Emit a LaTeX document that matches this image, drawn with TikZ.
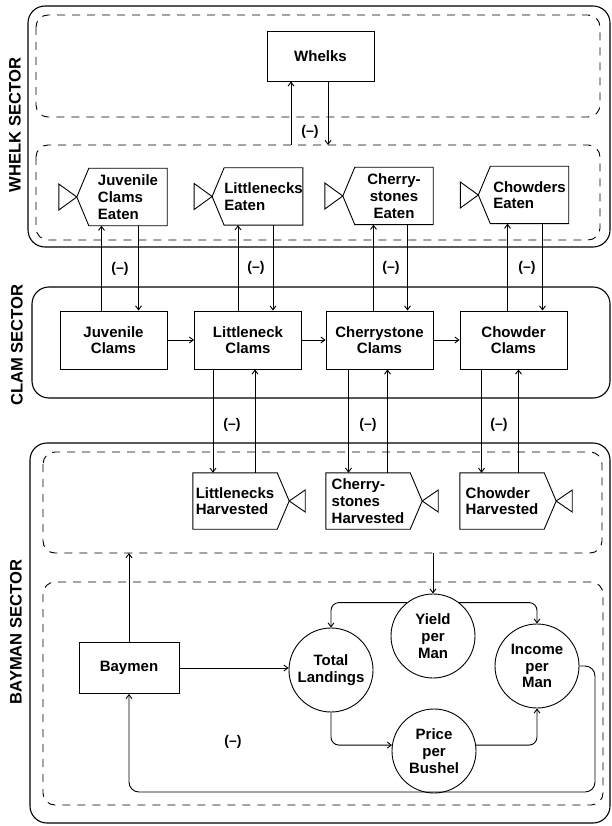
\documentclass[tikz,border=0pt]{standalone}
\usepackage{fontspec}
\setmainfont{Liberation Sans}
\usetikzlibrary{arrows.meta}

\newcommand{\eatenbox}[1]{%
  \draw[link] (#1.north east) -- (#1.south east) -- (#1.south west)
    -- ([xshift=-12pt]#1.west) -- (#1.north west) -- cycle;
  \draw[link] ([xshift=-12pt]#1.west) -- ++(-18,-13) -- ++(0,26) -- cycle;}
\newcommand{\harvestbox}[1]{%
  \draw[link] (#1.north west) -- (#1.north east) -- ([xshift=12pt]#1.east)
    -- (#1.south east) -- (#1.south west) -- cycle;
  \draw[link] ([xshift=12pt]#1.east) -- ++(16,-11) -- ++(0,22) -- cycle;}

\begin{document}
\begin{tikzpicture}[x=1pt,y=-1pt,
    >={Straight Barb[length=4pt,width=6pt]},
    every node/.style={font=\bfseries\fontsize{15}{16.7}\selectfont},
    link/.style={line width=0.9pt},
    sector/.style={draw,line width=1.1pt,rounded corners=17pt},
    group/.style={draw,line width=0.9pt,dash pattern=on 8pt off 7pt,rounded corners=12pt},
    stock/.style={draw,line width=0.9pt,minimum width=107pt,minimum height=58pt,align=center,inner sep=0pt},
    aux/.style={draw,circle,line width=0.9pt,minimum size=84pt,align=center,inner sep=0pt},
    rate/.style={minimum width=78pt,minimum height=57pt,align=left,inner sep=0pt},
    harvest/.style={minimum width=84pt,minimum height=56pt,align=left,inner sep=0pt},
    sign/.style={font=\bfseries\fontsize{14}{16}\selectfont},
    sectorname/.style={rotate=90,font=\bfseries\fontsize{16.6}{18}\selectfont}]

    \useasboundingbox (0,0) rectangle (611,826);

    \draw[sector] (28,6) rectangle (610,247);
    \draw[sector] (32,287) rectangle (610,398);
    \draw[sector] (30,443) rectangle (610,823);
    \draw[group] (36,15) rectangle (600,117);
    \draw[group] (36,145) rectangle (600,240);
    \draw[group] (43,452) rectangle (602,553);
    \draw[group] (43,582) rectangle (603,805);

    \node[sectorname] (wsec) at (15,125) {WHELK SECTOR};
    \node[sectorname] (csec) at (17,345) {CLAM SECTOR};
    \node[sectorname] (bsec) at (16,632) {BAYMAN SECTOR};

    \node[stock,minimum height=50pt] (whelks) at (320.5,56) {Whelks};
    \coordinate (wup) at (291,145);
    \coordinate (wdn) at (328,145);
    \draw[link,->] (wup) -- (wup |- whelks.south);
    \draw[link,->] (wdn |- whelks.south) -- (wdn);
    \node[sign] (m0) at (310,132) {(--)};

    \node[rate] (jce) at (128,197) {Juvenile\\Clams\\Eaten};
    \node[rate] (lne) at (263.5,196.5) {Littlenecks\\Eaten};
    \node[rate,align=center] (che) at (394,196) {Cherry-\\stones\\Eaten};
    \node[rate] (cwe) at (529.5,195) {Chowders\\Eaten};
    \eatenbox{jce}
    \eatenbox{lne}
    \eatenbox{che}
    \eatenbox{cwe}

    \node[stock] (juv) at (113.5,340) {Juvenile\\Clams};
    \node[stock] (lnc) at (248,340) {Littleneck\\Clams};
    \node[stock] (chc) at (379.5,340) {Cherrystone\\Clams};
    \node[stock] (cwc) at (513.5,340) {Chowder\\Clams};
    \draw[link,->] (juv) -- (lnc);
    \draw[link,->] (lnc) -- (chc);
    \draw[link,->] (chc) -- (cwc);

    \draw[link,->] ([xshift=-12pt]juv.north) -- ([xshift=-12pt]juv.north |- jce.south);
    \draw[link,->] ([xshift=25pt]juv.north |- jce.south) -- ([xshift=25pt]juv.north);
    \draw[link,->] ([xshift=-10pt]lnc.north) -- ([xshift=-10pt]lnc.north |- lne.south);
    \draw[link,->] ([xshift=25pt]lnc.north |- lne.south) -- ([xshift=25pt]lnc.north);
    \draw[link,->] ([xshift=-6pt]chc.north) -- ([xshift=-6pt]chc.north |- che.south);
    \draw[link,->] ([xshift=28pt]chc.north |- che.south) -- ([xshift=28pt]chc.north);
    \draw[link,->] ([xshift=-6pt]cwc.north) -- ([xshift=-6pt]cwc.north |- cwe.south);
    \draw[link,->] ([xshift=29pt]cwc.north |- cwe.south) -- ([xshift=29pt]cwc.north);
    \node[sign] (m1) at (120,269) {(--)};
    \node[sign] (m2) at (256,268) {(--)};
    \node[sign] (m3) at (391,268) {(--)};
    \node[sign] (m4) at (527,268) {(--)};

    \node[harvest] (lnh) at (235,501) {Littlenecks\\Harvested};
    \node[harvest] (chh) at (368,501) {Cherry-\\stones\\Harvested};
    \node[harvest] (cwh) at (502,501) {Chowder\\Harvested};
    \harvestbox{lnh}
    \harvestbox{chh}
    \harvestbox{cwh}

    \draw[link,->] ([xshift=-35pt]lnc.south) -- ([xshift=-35pt]lnc.south |- lnh.north);
    \draw[link,->] ([xshift=7pt]lnc.south |- lnh.north) -- ([xshift=7pt]lnc.south);
    \draw[link,->] ([xshift=-31pt]chc.south) -- ([xshift=-31pt]chc.south |- chh.north);
    \draw[link,->] ([xshift=8pt]chc.south |- chh.north) -- ([xshift=8pt]chc.south);
    \draw[link,->] ([xshift=-32pt]cwc.south) -- ([xshift=-32pt]cwc.south |- cwh.north);
    \draw[link,->] ([xshift=5pt]cwc.south |- cwh.north) -- ([xshift=5pt]cwc.south);
    \node[sign] (m5) at (232,425) {(--)};
    \node[sign] (m6) at (368,425) {(--)};
    \node[sign] (m7) at (499,425) {(--)};

    \node[stock,minimum width=100pt,minimum height=51pt] (baymen) at (129,668) {Baymen};
    \node[aux] (total) at (331,670) {Total\\Landings};
    \node[aux] (yield) at (433,636) {Yield\\per\\Man};
    \node[aux] (income) at (537,666) {Income\\per\\Man};
    \node[aux] (price) at (434,751) {Price\\per\\Bushel};
    \coordinate (hin) at (129,553);
    \coordinate (hout) at (433,553);
    \coordinate (loop) at (595,792);

    \draw[link,->] (baymen.north) -- (hin);
    \draw[link,->] (hout) -- (yield.north);
    \draw[link,->] (baymen.east) -- (baymen.east -| total.west);
    \draw[link,->,rounded corners=8pt] (yield.128) -| (total.north);
    \draw[link,->,rounded corners=8pt] (yield.52) -| (income.north);
    \draw[link,->,rounded corners=8pt] (total.south) |- (price.172);
    \draw[link,->,rounded corners=8pt] (price.8) -| (income.south);
    \draw[link,->,rounded corners=10pt] (income.east) -| (loop) -| (baymen.south);
    \node[sign] (m8) at (233,742) {(--)};

\end{tikzpicture}
\end{document}
